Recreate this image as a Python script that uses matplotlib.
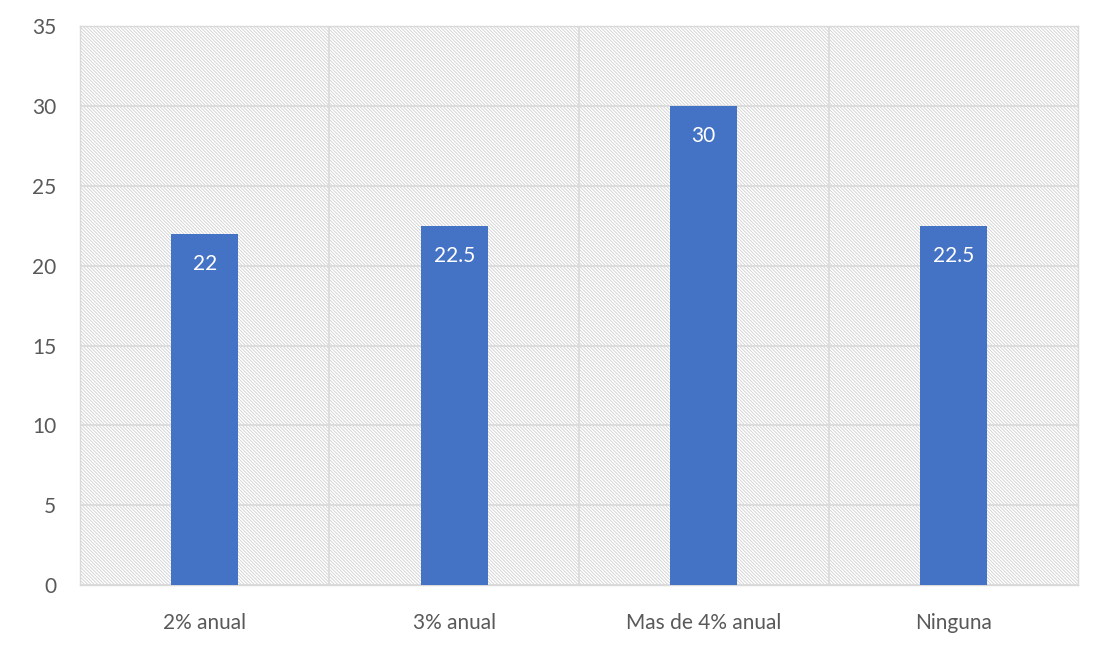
import matplotlib
matplotlib.use("Agg")
import matplotlib.pyplot as plt
from matplotlib.patches import Rectangle

categorias = ['2% anual', '3% anual', 'Mas de 4% anual', 'Ninguna']
valores = [22, 22.5, 30, 22.5]
etiquetas = ['22', '22.5', '30', '22.5']
yticks = [0, 5, 10, 15, 20, 25, 30, 35]

plt.rcParams['font.family'] = ['Lato', 'DejaVu Sans']
plt.rcParams['hatch.color'] = '#cfcfcf'
plt.rcParams['hatch.linewidth'] = 0.6

fig = plt.figure(figsize=(10.95, 6.51), dpi=100)
ax = fig.add_axes([0.073, 0.101, 0.9115, 0.859])

# fondo rayado del area de trazado
ax.add_patch(Rectangle((0, 0), 1, 1, transform=ax.transAxes, facecolor='white',
                       edgecolor='#cfcfcf', hatch='\\' * 10, linewidth=0, zorder=0))

x = range(len(categorias))
barras = ax.bar(x, valores, width=0.27, color='#4472c4', zorder=3)

for b, txt in zip(barras, etiquetas):
    ax.text(b.get_x() + b.get_width() / 2, b.get_height() - 1.25, txt,
            ha='center', va='top', color='white', fontsize=15, zorder=4)

ax.set_xlim(-0.5, len(categorias) - 0.5)
ax.set_ylim(0, 35)
ax.set_yticks(yticks)
ax.set_xticks(list(x))
ax.set_xticklabels(categorias)

# lineas verticales entre categorias
for xv in [0.5, 1.5, 2.5]:
    ax.axvline(xv, color='#d9d9d9', linewidth=1.2, zorder=1)
ax.grid(axis='y', color='#d9d9d9', linewidth=1.2, zorder=1)
ax.set_axisbelow(True)

for s in ax.spines.values():
    s.set_color('#d9d9d9')
    s.set_linewidth(1)

ax.tick_params(axis='both', length=0, labelsize=15, labelcolor='#595959')
ax.tick_params(axis='y', pad=17)
ax.tick_params(axis='x', pad=20)

fig.savefig('out.png', dpi=100, facecolor='white')
